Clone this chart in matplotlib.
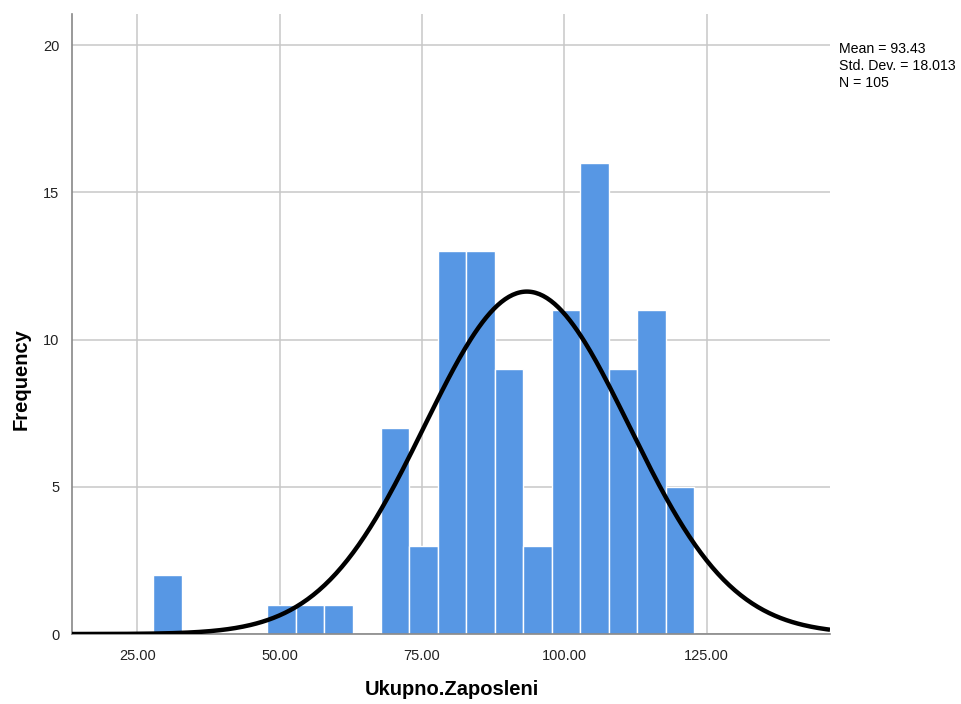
import numpy as np
import matplotlib.pyplot as plt

# histogram bins (width 5) and counts
bin_edges = [27.8, 32.8, 37.8, 42.8, 47.8, 52.8, 57.8, 62.8, 67.8, 72.8,
             77.8, 82.8, 87.8, 92.8, 97.8, 102.8, 107.8, 112.8, 117.8, 122.8]
counts = [2, 0, 0, 0, 1, 1, 1, 0, 7, 3, 13, 13, 9, 3, 11, 16, 9, 11, 5]

mean = 93.43
std = 18.013
n = 105

x_ticks = [25, 50, 75, 100, 125]
y_ticks = [0, 5, 10, 15, 20]

plt.rcParams["font.family"] = ["Liberation Sans", "DejaVu Sans"]


def main():
    fig = plt.figure(figsize=(9.61, 7.04), dpi=100)
    ax = fig.add_axes([0.0749, 0.0994, 0.7888, 0.8806])

    width = bin_edges[1] - bin_edges[0]
    lefts = bin_edges[:-1]
    ax.bar(lefts, counts, width=width, align="edge", color="#5797e4",
           edgecolor="white", linewidth=1.0, zorder=2)

    # normal curve scaled to the counts
    xs = np.linspace(13.5, 146.7, 400)
    ys = n * width * np.exp(-0.5 * ((xs - mean) / std) ** 2) / (std * np.sqrt(2 * np.pi))
    ax.plot(xs, ys, color="black", linewidth=3.2, zorder=3, solid_capstyle="butt")

    ax.set_xlim(13.5, 146.7)
    ax.set_ylim(0, 21.05)
    ax.set_xticks(x_ticks)
    ax.set_xticklabels([f"{v:.2f}" for v in x_ticks])
    ax.set_yticks(y_ticks)
    ax.tick_params(length=0, labelsize=10.5, colors="#222222", pad=9)
    ax.tick_params(axis="x", pad=11)

    ax.grid(True, color="#c8c8c8", linewidth=1.1, zorder=0)
    ax.set_axisbelow(True)
    for s in ["top", "right"]:
        ax.spines[s].set_visible(False)
    for s in ["left", "bottom"]:
        ax.spines[s].set_color("#888888")
        ax.spines[s].set_linewidth(1.2)

    fig.text(0.470, 0.020, "Ukupno.Zaposleni", fontsize=14.5, fontweight="bold",
             ha="center", va="center")
    fig.text(0.022, 0.462, "Frequency", fontsize=14.5, fontweight="bold",
             ha="center", va="center", rotation=90)

    fig.text(0.873, 0.906, f"Mean = {mean}\nStd. Dev. = {std}\nN = {n}",
             fontsize=10.2, va="center", ha="left", linespacing=1.25)

    fig.savefig("out.png", dpi=100)


if __name__ == "__main__":
    main()
